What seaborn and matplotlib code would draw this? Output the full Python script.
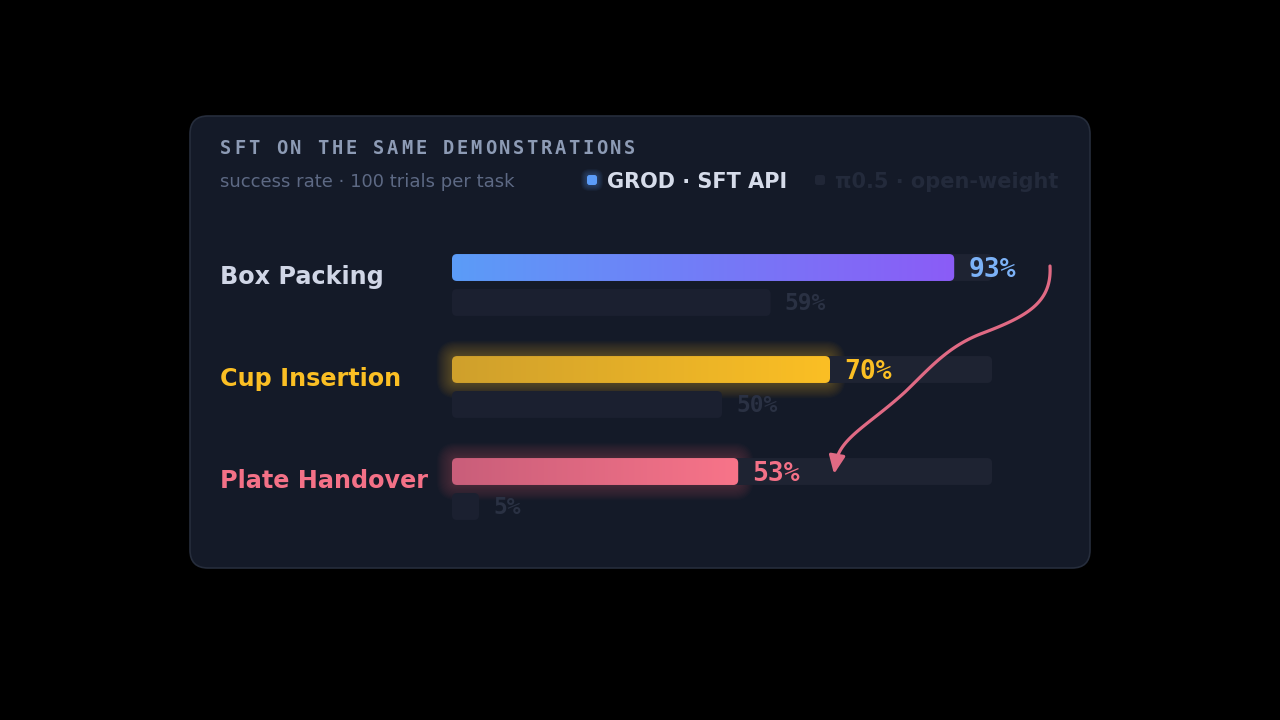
import numpy as np
import pandas as pd
import seaborn as sns
import matplotlib.pyplot as plt
from matplotlib.patches import FancyBboxPatch
from matplotlib.colors import to_rgb

# data
tasks = ['Box Packing', 'Cup Insertion', 'Plate Handover']
models = ['GROD · SFT API', 'π0.5 · open-weight']
grod = [93, 70, 53]
pi05 = [59, 50, 5]

title = 'SFT ON THE SAME DEMONSTRATIONS'
subtitle = 'success rate · 100 trials per task'

task_colors = ['#d0d6e6', '#fbbf24', '#f47187']
value_colors = ['#7cb2f7', '#fbbf24', '#f47187']
grad_left = ['#5b9cf8', '#cfa02c', '#c95e7a']
grad_right = ['#8b5cf6', '#fbbf24', '#f87489']
glow_colors = ['#6f7cf7', '#fbbf24', '#f47187']
glow_strength = [0.003, 0.022, 0.018]

# arrow as three cubic pieces (pixels), decorative annotation
arrow_ctrl = [(1050, 266), (1052, 302), (1028, 316), (983, 333),
              (948, 346), (930, 368), (905, 392),
              (870, 424), (840, 438), (836, 462)]
arrow_tip = (834, 474)

W, H = 1280, 720
sns.set_theme(style='white')
plt.rcParams['font.family'] = ['DejaVu Sans']

fig = plt.figure(figsize=(12.8, 7.2), dpi=100, facecolor='black')
bg = fig.add_axes([0, 0, 1, 1])
bg.set_xlim(0, W)
bg.set_ylim(H, 0)
bg.axis('off')

# card
card = FancyBboxPatch((190, 116), 900, 452, boxstyle='round,pad=0,rounding_size=18',
                      fc='#141a28', ec='#262d3c', lw=1.2, zorder=1)
bg.add_patch(card)

# bar axes: 0..100 across the track, categories down
ax = fig.add_axes([452 / W, (H - 540) / H, 540 / W, 306 / H])
df = pd.DataFrame({'task': tasks * 2,
                   'model': [models[0]] * 3 + [models[1]] * 3,
                   'value': grod + pi05})
sns.barplot(data=df, x='value', y='task', hue='model', hue_order=models, orient='h',
            width=0.686, gap=0.23, errorbar=None, legend=False, ax=ax)
ax.set_xlim(0, 100)
ax.set_ylim(2.5, -0.5)
ax.axis('off')


def to_px(x, y):
    d = ax.transData.transform((x, y))
    return bg.transData.inverted().transform(d)


def rbox(x0, y0, x1, y1, r=5, **kw):
    p = FancyBboxPatch((x0, y0), x1 - x0, y1 - y0,
                       boxstyle=f'round,pad=0,rounding_size={r}', **kw)
    bg.add_patch(p)
    return p


def grad_bar(x0, y0, x1, y1, cl, cr, z):
    box = rbox(x0, y0, x1, y1, fc='none', ec='none', zorder=z)
    t = np.linspace(0, 1, 256)[:, None]
    cols = (1 - t) * np.array(to_rgb(cl)) + t * np.array(to_rgb(cr))
    im = bg.imshow(cols[None, :, :], extent=(x0, x1, y1, y0), aspect='auto',
                   interpolation='bilinear', zorder=z)
    im.set_clip_path(box)


for p in list(ax.patches):
    w = p.get_width()
    yc = p.get_y() + p.get_height() / 2
    i = int(round(yc))
    main = yc < i
    px0, py0 = to_px(p.get_x(), p.get_y())
    px1, py1 = to_px(p.get_x() + w, p.get_y() + p.get_height())
    ya, yb = min(py0, py1), max(py0, py1)
    p.set_visible(False)
    if main:
        tx1, _ = to_px(100, yc)
        rbox(px0, ya, tx1, yb, fc='#1e2332', ec='none', zorder=3)
        for k in range(1, 15):
            g = 1.1 * k
            rbox(px0 - g, ya - g, px1 + g, yb + g, r=5 + g,
                 fc=glow_colors[i], ec='none', alpha=glow_strength[i], zorder=2)
        grad_bar(px0, ya, px1, yb, grad_left[i], grad_right[i], 4)
        yc_px = (ya + yb) / 2
        bg.text(px1 + 14, yc_px + 9, f'{w:.0f}%', color=value_colors[i], fontsize=19,
                family='DejaVu Sans Mono', weight='bold', va='baseline', zorder=5)
        bg.text(220, yc_px + 16, tasks[i], color=task_colors[i], fontsize=17.2,
                weight='bold', va='baseline', zorder=5)
    else:
        rbox(px0, ya, px1, yb, fc='#1b2030', ec='none', zorder=3)
        yc_px = (ya + yb) / 2
        bg.text(px1 + 14, yc_px + 8, f'{w:.0f}%', color='#2a3143', fontsize=16.5,
                family='DejaVu Sans Mono', weight='bold', va='baseline', zorder=5)

# header
for k, ch in enumerate(title):
    bg.text(220 + k * 13.93, 154, ch, color='#8d9bb5', fontsize=13.5,
            family='DejaVu Sans Mono', weight='bold', va='baseline', zorder=5)
bg.text(220, 187, subtitle, color='#5d6984', fontsize=13, va='baseline', zorder=5)

# legend
for g in range(1, 7):
    rbox(587 - g, 175 - g, 597 + g, 185 + g, r=2.5 + g,
         fc='#5b9cf8', ec='none', alpha=0.05, zorder=4)
rbox(587, 175, 597, 185, r=2.5, fc='#5b9cf8', ec='none', zorder=5)
bg.text(607, 188, models[0], color='#d6dcea', fontsize=15, weight='bold', va='baseline', zorder=5)
rbox(815, 175, 825, 185, r=2.5, fc='#202636', ec='none', zorder=5)
bg.text(835, 188, models[1], color='#232a3b', fontsize=15, weight='bold', va='baseline', zorder=5)

# arrow
cp = np.array(arrow_ctrl, float)
t = np.linspace(0, 1, 40)[:, None]
pieces = []
for j in range(0, len(cp) - 1, 3):
    a, b, c, d = cp[j], cp[j + 1], cp[j + 2], cp[j + 3]
    pieces.append((1 - t) ** 3 * a + 3 * (1 - t) ** 2 * t * b + 3 * (1 - t) * t ** 2 * c + t ** 3 * d)
curve = np.vstack(pieces)
bg.plot(curve[:, 0], curve[:, 1], color='#e06a84', lw=2.3, solid_capstyle='round', zorder=6)
bg.annotate('', xy=arrow_tip, xytext=tuple(curve[-1]),
            arrowprops=dict(arrowstyle='-|>,head_length=0.9,head_width=0.4', color='#e06a84',
                            lw=2.3, shrinkA=0, shrinkB=0, mutation_scale=12), zorder=6)

bg.set_xlim(0, W)
bg.set_ylim(H, 0)
fig.savefig('out.png', dpi=100, facecolor='black')
